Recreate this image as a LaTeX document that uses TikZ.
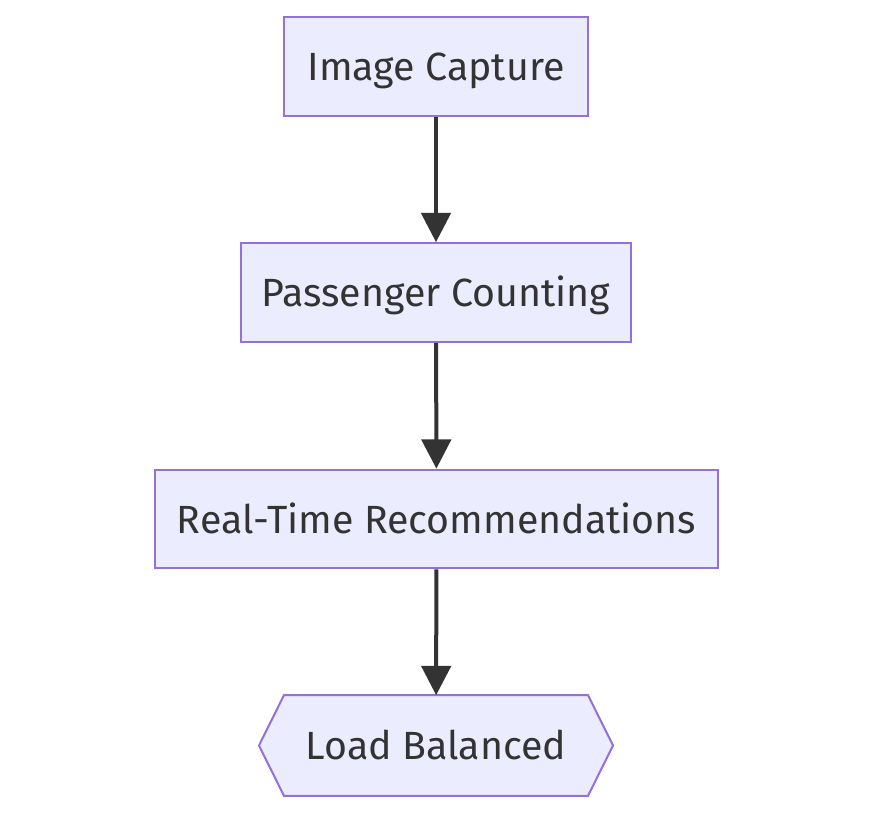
\documentclass[tikz,border=0pt]{standalone}
\usepackage{fontspec}
\setmainfont{Fira Sans}
\usepackage{tikz}
\usetikzlibrary{positioning}
\usetikzlibrary{arrows.meta}

\definecolor{boxfill}{HTML}{ECECFF}
\definecolor{boxline}{HTML}{9370DB}
\definecolor{ink}{HTML}{333333}

\tikzset{
    label text/.style={text=ink, text height=21.5pt, text depth=0pt,
        font=\fontsize{29.5}{34}\selectfont},
    stage/.style={label text, draw=boxline, fill=boxfill, line width=1.5pt,
        minimum height=74pt, inner xsep=15pt},
    flow/.style={draw=ink, line width=3pt, -{Triangle[length=22pt,width=22pt]}}
}

\begin{document}
\begin{tikzpicture}[x=0.75pt, y=-0.75pt]
        \useasboundingbox (0, 0) rectangle (881, 816);

        \node [stage, minimum width=228pt] (capture) at (436, 66.5) {Image Capture};
        \node [stage, minimum width=292.5pt] (counting) at (436, 292.5) {Passenger Counting};
        \node [stage, minimum width=422pt] (recommend) at (436.5, 519) {Real-Time Recommendations};
        \node [stage, draw=none, fill=none, minimum width=226.5pt] (balanced) at (436, 745.5) {};

        % hexagon for the end state
        \draw [draw=boxline, fill=boxfill, line width=1.5pt]
            (balanced.north west) -- (balanced.north east)
            -- ([xshift=18.75pt]balanced.east) -- (balanced.south east)
            -- (balanced.south west) -- ([xshift=-18.75pt]balanced.west) -- cycle;
        \node [label text] at (balanced) {Load Balanced};

        \draw [flow] (capture) -- (counting);
        \draw [flow] (counting) -- (recommend);
        \draw [flow] (recommend) -- (balanced);
\end{tikzpicture}
\end{document}
